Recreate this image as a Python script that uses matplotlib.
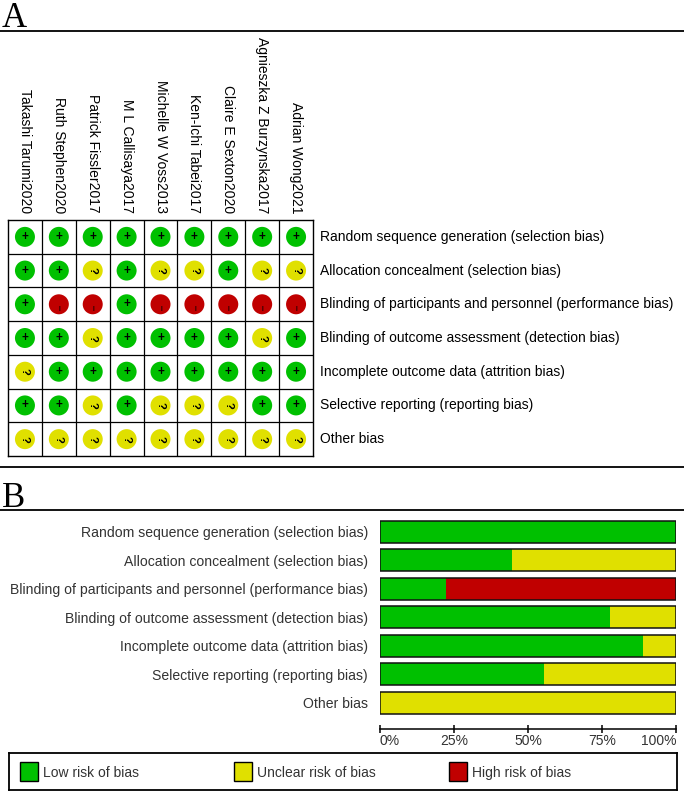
import numpy as np
import matplotlib
matplotlib.use("Agg")
import matplotlib.pyplot as plt
from matplotlib.lines import Line2D
from matplotlib.patches import Rectangle
import matplotlib.transforms as mtransforms

# ---------------- data ----------------
studies = ["Takashi Tarumi2020", "Ruth Stephen2020", "Patrick Fissler2017",
           "M L Callisaya2017", "Michelle W Voss2013", "Ken-Ichi Tabei2017",
           "Claire E Sexton2020", "Agnieszka Z Burzynska2017", "Adrian Wong2021"]
domains = ["Random sequence generation (selection bias)",
           "Allocation concealment (selection bias)",
           "Blinding of participants and personnel (performance bias)",
           "Blinding of outcome assessment (detection bias)",
           "Incomplete outcome data (attrition bias)",
           "Selective reporting (reporting bias)",
           "Other bias"]
random_seq   = ["+", "+", "+", "+", "+", "+", "+", "+", "+"]
allocation   = ["+", "+", "?", "+", "?", "?", "+", "?", "?"]
blind_part   = ["+", "-", "-", "+", "-", "-", "-", "-", "-"]
blind_outc   = ["+", "+", "?", "+", "+", "+", "+", "?", "+"]
incomplete   = ["?", "+", "+", "+", "+", "+", "+", "+", "+"]
selective    = ["+", "+", "?", "+", "?", "?", "?", "+", "+"]
other_bias   = ["?", "?", "?", "?", "?", "?", "?", "?", "?"]
judgements = [random_seq, allocation, blind_part, blind_outc, incomplete, selective, other_bias]
legend_labels = ["Low risk of bias", "Unclear risk of bias", "High risk of bias"]
xtick_vals = [0, 25, 50, 75, 100]
xtick_labels = ["0%", "25%", "50%", "75%", "100%"]

# ---------------- style ----------------
GREEN, YELLOW, RED = "#00C000", "#E0E000", "#C00000"
col = {"+": GREEN, "?": YELLOW, "-": RED}
SANS = ["Liberation Sans", "DejaVu Sans"]
SERIF = ["Liberation Serif", "DejaVu Serif"]
plt.rcParams["font.family"] = SANS

W, H = 684, 791
fig = plt.figure(figsize=(W / 100, H / 100), dpi=100)


def fax(l, t, r, b):
    return fig.add_axes([l / W, 1 - b / H, (r - l) / W, (b - t) / H])


def hline(y, lw=1.3, color="black"):
    fig.add_artist(Line2D([0, 1], [1 - y / H, 1 - y / H], transform=fig.transFigure,
                          color=color, lw=lw))


# panel letters and separators
fig.text(2 / W, 1 - 27 / H, "A", family=SERIF, fontsize=25, ha="left", va="baseline")
hline(30.5)
hline(467)
fig.text(2 / W, 1 - 507 / H, "B", family=SERIF, fontsize=25, ha="left", va="baseline")
hline(510)

# ---------------- panel A ----------------
ax = fax(8, 220, 313, 456)
ns, nd = len(studies), len(domains)
ax.set_xlim(-0.5, ns - 0.5)
ax.set_ylim(nd - 0.5, -0.5)
ax.set_xticks([])
ax.set_yticks([])
for sp in ax.spines.values():
    sp.set_color("black")
    sp.set_linewidth(1.0)
for x in np.arange(0.5, ns - 0.5):
    ax.axvline(x, color="black", lw=0.9)
for y in np.arange(0.5, nd - 0.5):
    ax.axhline(y, color="black", lw=0.9)

px = 72 / 100
down = ax.transData + mtransforms.ScaledTranslation(0.5 / 100, -4.5 / 100, fig.dpi_scale_trans)
for j, row in enumerate(judgements):
    xs = np.arange(ns)
    ys = np.full(ns, j)
    ax.scatter(xs, ys, s=(20 * px) ** 2, c=[col[v] for v in row], linewidths=0, zorder=3)
    for i, v in enumerate(row):
        if v == "+":
            ax.text(i, j, "+", ha="center", va="center", fontsize=8.5, fontweight="bold",
                    color="black", zorder=4)
        elif v == "?":
            ax.text(i, j, "?", ha="center", va="center", fontsize=8, fontweight="bold",
                    color="black", rotation=-90, rotation_mode="anchor", zorder=4)
        else:
            ax.text(i, j, "|", transform=down, ha="center", va="center", fontsize=4.5,
                    fontweight="bold", color="black", zorder=5)

for i, s in enumerate(studies):
    ax.annotate(s, (i, -0.5), xycoords="data", xytext=(0, 7 * px),
                textcoords="offset points", rotation=-90, rotation_mode="anchor",
                ha="right", va="center", fontsize=10, color="black")
for j, d in enumerate(domains):
    ax.annotate(d, (1, j), xycoords=("axes fraction", "data"), xytext=(7 * px, 0),
                textcoords="offset points", ha="left", va="center", fontsize=10,
                color="black")

# ---------------- panel B ----------------
bx = fax(380, 517.75, 676, 716.75)
counts = {k: np.array([row.count(k) for row in judgements], dtype=float) for k in ["+", "?", "-"]}
total = counts["+"] + counts["?"] + counts["-"]
pct = {k: counts[k] / total * 100 for k in counts}
yy = np.arange(nd)
left = np.zeros(nd)
bh = 22 / 28.5
for k in ["+", "?", "-"]:
    bx.barh(yy, pct[k], left=left, height=bh, color=col[k], edgecolor="none", zorder=2)
    left = left + pct[k]
bx.barh(yy, left, height=bh, fill=False, edgecolor="#111111", linewidth=1.1, zorder=3)
bx.set_xlim(0, 100)
bx.set_ylim(nd - 0.5, -0.5)
bx.set_yticks(yy)
bx.set_yticklabels(domains, fontsize=10.1, color="#333333")
bx.tick_params(axis="y", length=0, pad=12 * px)
for k in ["top", "right", "left"]:
    bx.spines[k].set_visible(False)
bx.spines["bottom"].set_position(("outward", 12.25 * px))
bx.spines["bottom"].set_linewidth(1.1)
bx.set_xticks(xtick_vals)
bx.set_xticklabels(xtick_labels, fontsize=10, color="#333333")
bx.tick_params(axis="x", direction="inout", length=8 * px, width=1.1, pad=1)
tl = bx.get_xticklabels()
tl[0].set_ha("left")
tl[-1].set_ha("right")

# ---------------- legend ----------------
lx = fax(9, 753, 677, 790)
lx.set_xlim(0, 1)
lx.set_ylim(0, 1)
lx.set_xticks([])
lx.set_yticks([])
for sp in lx.spines.values():
    sp.set_linewidth(1.3)
    sp.set_color("black")
lw_ = 668
starts = [11, 225, 440]
for k, st, lab in zip(["+", "?", "-"], starts, legend_labels):
    lx.add_patch(Rectangle((st / lw_, 0.24), 18 / lw_, 19 / 37, facecolor=col[k],
                           edgecolor="black", linewidth=1.0, transform=lx.transAxes))
    lx.text((st + 23) / lw_, 0.36, lab, ha="left", va="baseline", fontsize=10,
            color="#333333", transform=lx.transAxes)

fig.savefig("out.png", dpi=100)
